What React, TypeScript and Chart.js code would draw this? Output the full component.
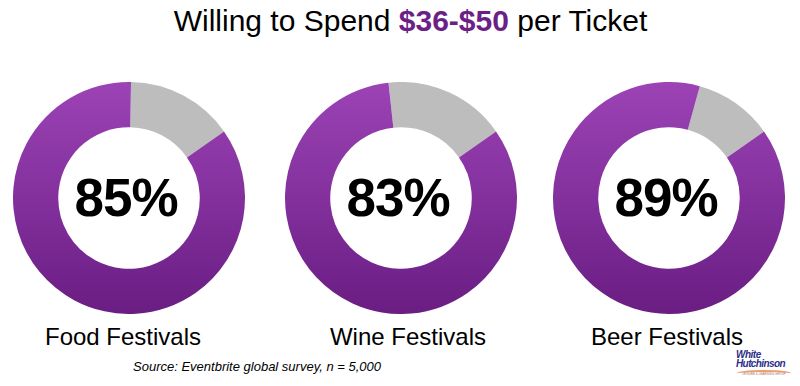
import React, { useEffect, useRef } from "react";
import { Chart, registerables } from "chart.js";

Chart.register(...registerables);

const categories = ["Food Festivals", "Wine Festivals", "Beer Festivals"];
const willingPct = [85, 83, 89];
const notWillingPct = [15, 17, 11];
const titleParts = ["Willing to Spend ", "$36-$50", " per Ticket"];
const sourceText = "Source: Eventbrite global survey, n = 5,000";

const FONT = 'Helvetica, Arial, "Liberation Sans", sans-serif';
const GRAY_END_DEG = 55;
const centersX = [129, 401, 669];
const labelCentersX = [123, 408, 667];
const CY = 198;
const SIZE = 232;

function Donut({ willing, notWilling, cx }: { willing: number; notWilling: number; cx: number }) {
  const ref = useRef<HTMLCanvasElement | null>(null);
  useEffect(() => {
    if (!ref.current) return;
    const chart = new Chart(ref.current, {
      type: "doughnut",
      data: {
        labels: ["Not willing", "Willing"],
        datasets: [
          {
            data: [notWilling, willing],
            borderWidth: 0,
            backgroundColor: (ctx: any) => {
              if (ctx.dataIndex === 0) return "#bdbdbd";
              const area = ctx.chart.chartArea;
              if (!area) return "#8a35a8";
              const g = ctx.chart.ctx.createLinearGradient(0, area.top, 0, area.bottom);
              g.addColorStop(0, "#9c43b6");
              g.addColorStop(1, "#6a1d83");
              return g;
            },
          },
        ],
      },
      options: {
        responsive: false,
        maintainAspectRatio: false,
        animation: false,
        cutout: "61%",
        rotation: GRAY_END_DEG - notWilling * 3.6,
        layout: { padding: 0 },
        plugins: { legend: { display: false }, tooltip: { enabled: false } },
      },
    });
    return () => chart.destroy();
  }, [willing, notWilling]);
  return (
    <>
      <canvas
        ref={ref}
        width={SIZE}
        height={SIZE}
        style={{ position: "absolute", left: cx - SIZE / 2, top: CY - SIZE / 2, width: SIZE, height: SIZE }}
      />
      <div
        style={{
          position: "absolute",
          left: cx - 100 - 3,
          width: 200,
          top: CY - 32,
          height: 64,
          lineHeight: "64px",
          textAlign: "center",
          fontFamily: FONT,
          fontWeight: "bold",
          fontSize: 53,
          color: "#000",
          letterSpacing: -1,
        }}
      >
        {willing}%
      </div>
    </>
  );
}

export default function App() {
  return (
    <div style={{ position: "absolute", left: 0, top: 0, width: 800, height: 386, background: "#fff", overflow: "hidden" }}>
      <div
        style={{
          position: "absolute",
          left: 0,
          width: 821,
          top: 4,
          textAlign: "center",
          fontFamily: FONT,
          fontSize: 30,
          color: "#000",
          whiteSpace: "nowrap",
        }}
      >
        {titleParts[0]}
        <span style={{ color: "#6b1f87", fontWeight: "bold" }}>{titleParts[1]}</span>
        {titleParts[2]}
      </div>
      {categories.map((c, i) => (
        <Donut key={c} willing={willingPct[i]} notWilling={notWillingPct[i]} cx={centersX[i]} />
      ))}
      {categories.map((c, i) => (
        <div
          key={"l" + c}
          style={{
            position: "absolute",
            left: labelCentersX[i] - 120,
            width: 240,
            top: 323,
            textAlign: "center",
            fontFamily: FONT,
            fontSize: 24,
            color: "#000",
            whiteSpace: "nowrap",
          }}
        >
          {c}
        </div>
      ))}
      <div
        style={{
          position: "absolute",
          left: 133,
          top: 359,
          fontFamily: FONT,
          fontStyle: "italic",
          fontSize: 13,
          color: "#000",
          whiteSpace: "nowrap",
        }}
      >
        {sourceText}
      </div>
      <div style={{ position: "absolute", left: 736, top: 350, width: 56, fontFamily: FONT, color: "#2c2f86" }}>
        <div style={{ fontSize: 10, fontWeight: "bold", fontStyle: "italic", lineHeight: "9px", letterSpacing: -0.5 }}>White</div>
        <div style={{ fontSize: 10, fontWeight: "bold", fontStyle: "italic", lineHeight: "10px", letterSpacing: -0.6 }}>Hutchinson</div>
        <div
          style={{
            marginTop: 1,
            height: 5,
            borderTop: "2px solid #e8a070",
            borderRadius: "50% 50% 0 0",
            fontSize: 3,
            color: "#b07050",
            lineHeight: "4px",
            textAlign: "center",
          }}
        >
          LEISURE &amp; LEARNING GROUP
        </div>
      </div>
    </div>
  );
}
